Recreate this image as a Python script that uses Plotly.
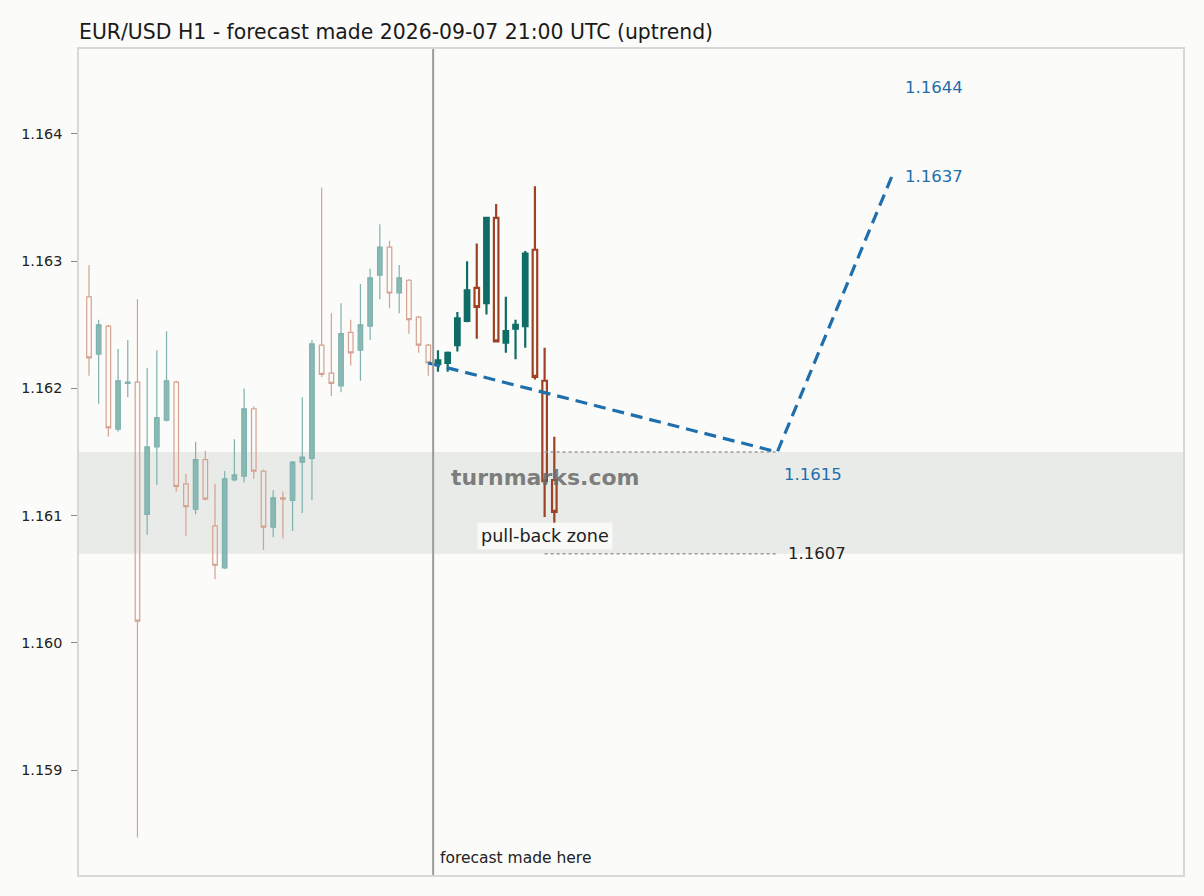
import plotly.graph_objects as go

# свечи до прогноза (индекс часа 0..35)
hist_open = [1.16272, 1.16227, 1.16249, 1.16168, 1.16204, 1.16205, 1.16101, 1.16154, 1.16175, 1.16205,
             1.16125, 1.16105, 1.16144, 1.16092, 1.16059, 1.16128, 1.16131, 1.16184, 1.16135, 1.16091,
             1.16114, 1.16112, 1.16142, 1.16145, 1.16234, 1.16212, 1.16202, 1.16244, 1.16230, 1.16249,
             1.16289, 1.16311, 1.16275, 1.16285, 1.16256, 1.16234]
hist_high = [1.16297, 1.16254, 1.16250, 1.16231, 1.16238, 1.16270, 1.16216, 1.16230, 1.16245, 1.16206,
             1.16133, 1.16158, 1.16151, 1.16125, 1.16135, 1.16160, 1.16200, 1.16186, 1.16136, 1.16120,
             1.16119, 1.16143, 1.16193, 1.16238, 1.16358, 1.16259, 1.16267, 1.16254, 1.16282, 1.16294,
             1.16329, 1.16316, 1.16297, 1.16286, 1.16257, 1.16235]
hist_low = [1.16210, 1.16188, 1.16162, 1.16166, 1.16193, 1.15847, 1.16085, 1.16124, 1.16174, 1.16119,
            1.16084, 1.16101, 1.16112, 1.16050, 1.16058, 1.16127, 1.16126, 1.16129, 1.16073, 1.16083,
            1.16082, 1.16088, 1.16102, 1.16112, 1.16209, 1.16194, 1.16197, 1.16218, 1.16206, 1.16238,
            1.16270, 1.16263, 1.16259, 1.16243, 1.16228, 1.16210]
hist_close = [1.16224, 1.16250, 1.16169, 1.16206, 1.16205, 1.16017, 1.16154, 1.16177, 1.16206, 1.16123,
              1.16107, 1.16144, 1.16113, 1.16061, 1.16129, 1.16132, 1.16184, 1.16135, 1.16091, 1.16114,
              1.16113, 1.16142, 1.16146, 1.16235, 1.16211, 1.16204, 1.16243, 1.16228, 1.16250, 1.16287,
              1.16311, 1.16275, 1.16287, 1.16254, 1.16234, 1.16220]

# свечи после прогноза (индекс 36..48)
fut_open = [1.16219, 1.16220, 1.16234, 1.16253, 1.16279, 1.16267, 1.16334, 1.16236, 1.16247, 1.16249,
            1.16309, 1.16206, 1.16128]
fut_high = [1.16230, 1.16229, 1.16260, 1.16300, 1.16314, 1.16334, 1.16345, 1.16272, 1.16254, 1.16308,
            1.16359, 1.16232, 1.16162]
fut_low = [1.16213, 1.16213, 1.16229, 1.16252, 1.16239, 1.16258, 1.16236, 1.16228, 1.16223, 1.16232,
           1.16207, 1.16099, 1.16094]
fut_close = [1.16222, 1.16228, 1.16255, 1.16277, 1.16264, 1.16334, 1.16237, 1.16245, 1.16250, 1.16306,
             1.16209, 1.16127, 1.16103]

hist_x = list(range(len(hist_open)))
fut_x = list(range(len(hist_open), len(hist_open) + len(fut_open)))
forecast_at = len(hist_open) - 0.5

# прогнозная траектория
forecast_x = [35, 71, 83]
forecast_y = [1.1622, 1.1615, 1.1637]
target_high = 1.1644

# зона отката
zone_low = 1.1607
zone_high = 1.1615
zone_x = [47, 71]

BG = "#fbfbf9"
TEAL = "#0f6d66"
RUST = "#9e4224"
BLUE = "#1f6fad"
FONT = "DejaVu Sans"

fig = go.Figure()

fig.add_trace(go.Candlestick(
    x=hist_x, open=hist_open, high=hist_high, low=hist_low, close=hist_close,
    increasing=dict(line=dict(color="#7fb2ad", width=1.2), fillcolor="#88b9b4"),
    decreasing=dict(line=dict(color="#d5a190", width=1.2), fillcolor="rgba(0,0,0,0)"),
    showlegend=False,
))
fig.add_trace(go.Candlestick(
    x=fut_x, open=fut_open, high=fut_high, low=fut_low, close=fut_close,
    increasing=dict(line=dict(color=TEAL, width=2.2), fillcolor=TEAL),
    decreasing=dict(line=dict(color=RUST, width=2.2), fillcolor="rgba(0,0,0,0)"),
    showlegend=False,
))

# пунктир границ зоны
for lvl in (zone_high, zone_low):
    fig.add_trace(go.Scatter(
        x=zone_x, y=[lvl, lvl], mode="lines",
        line=dict(color="#9a9a9a", width=1.5, dash="dot"),
        showlegend=False, hoverinfo="skip",
    ))

fig.add_trace(go.Scatter(
    x=forecast_x, y=forecast_y, mode="lines",
    line=dict(color=BLUE, width=3.2, dash="12px,7px"),
    showlegend=False,
))

fig.add_shape(type="rect", xref="paper", x0=0, x1=1, yref="y", y0=zone_low, y1=zone_high,
              fillcolor="#e9ebe8", line=dict(width=0), layer="below")
fig.add_shape(type="line", xref="x", x0=forecast_at, x1=forecast_at, yref="paper", y0=0, y1=1,
              line=dict(color="#9c9c9c", width=2))

fig.add_annotation(x=forecast_at, y=0, xref="x", yref="paper", text="forecast made here",
                   showarrow=False, xanchor="left", yanchor="bottom", xshift=5, yshift=6,
                   font=dict(family=FONT, size=15.5, color="#222"))
fig.add_annotation(x=47, y=(zone_low + zone_high) / 2 + 0.0002, text="<b>turnmarks.com</b>",
                   showarrow=False, font=dict(family=FONT, size=22, color="rgba(105,105,105,0.85)"))
fig.add_annotation(x=zone_x[0], y=zone_low + 0.00014, text="pull-back zone", showarrow=False,
                   bgcolor="rgba(255,255,255,0.7)", borderpad=3,
                   font=dict(family=FONT, size=17.6, color="#222"))

for val in (target_high, forecast_y[2]):
    fig.add_annotation(x=forecast_x[2] + 1.0, y=val, text=f"{val:.4f}", showarrow=False,
                       xanchor="left", yshift=-4, font=dict(family=FONT, size=16.5, color=BLUE))
fig.add_annotation(x=forecast_x[1] + 0.5, y=zone_high, text=f"{zone_high:.4f}", showarrow=False,
                   xanchor="left", yshift=-22, font=dict(family=FONT, size=16.5, color=BLUE))
fig.add_annotation(x=forecast_x[1] + 0.9, y=zone_low, text=f"{zone_low:.4f}", showarrow=False,
                   xanchor="left", font=dict(family=FONT, size=16.5, color="#222"))

fig.update_layout(
    width=1204, height=896,
    margin=dict(l=79, r=21, t=49, b=21),
    paper_bgcolor=BG, plot_bgcolor=BG,
    boxgap=0.33,
    title=dict(text="EUR/USD H1 - forecast made 2026-09-07 21:00 UTC (uptrend)",
               x=79 / 1204, xanchor="left", y=1 - 32 / 896, yanchor="middle",
               font=dict(family=FONT, size=20.4, color="#1a1a1a")),
    font=dict(family=FONT, color="#222"),
    xaxis=dict(range=[-1.03, 112.85], showticklabels=False, ticks="", showgrid=False,
               zeroline=False, showline=True, mirror=True, linecolor="#d6dad6", linewidth=1.5,
               rangeslider=dict(visible=False)),
    yaxis=dict(range=[1.158175, 1.164668], tickvals=[1.159, 1.160, 1.161, 1.162, 1.163, 1.164],
               tickformat=".3f", ticks="outside", ticklen=6, tickcolor="#888", showgrid=False,
               zeroline=False, showline=True, mirror=True, linecolor="#d6dad6", linewidth=1.5,
               ticklabelstandoff=6,
               tickfont=dict(family=FONT, size=14.4, color="#222")),
)

# убрать отступ body, чтобы график стоял в (0,0)
fig.write_html("out.html", config={"displayModeBar": False},
               post_script="document.body.style.margin='0';document.body.style.background='#fbfbf9';")
